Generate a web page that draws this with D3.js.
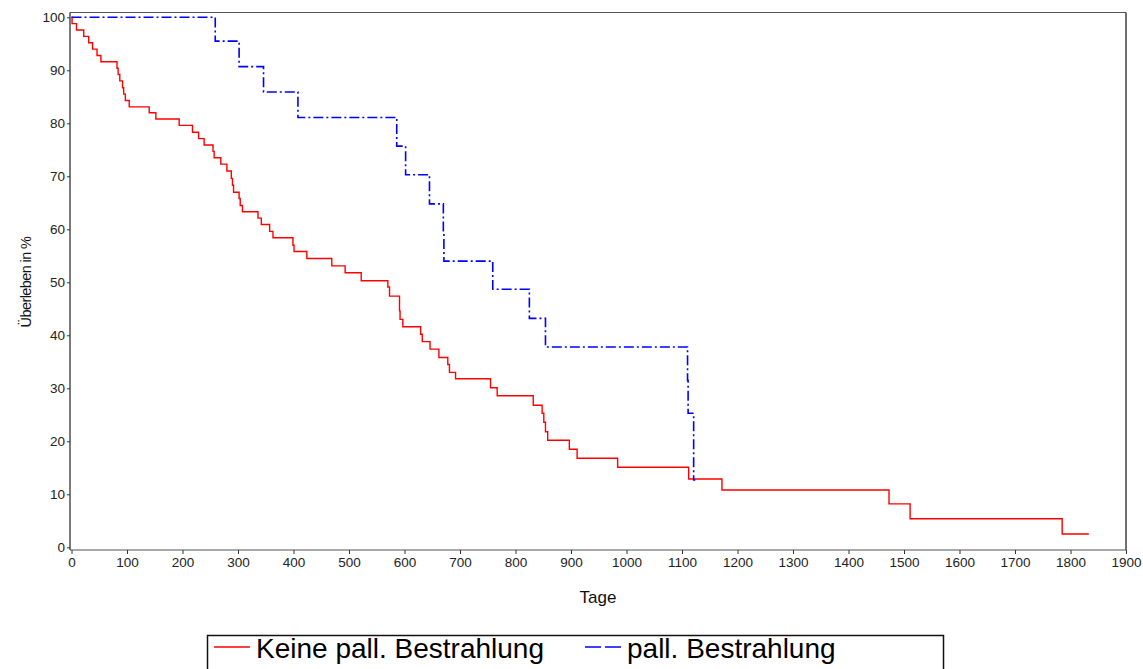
<!DOCTYPE html>
<html>
<head>
<meta charset="utf-8">
<script src="https://d3js.org/d3.v7.min.js"></script>
<style>
  body { margin: 0; background: #fff; }
  svg { display: block; font-family: "Liberation Sans", Arial, sans-serif; }
</style>
</head>
<body>
<div id="chart"></div>
<script>
// Kaplan-Meier steps: day of event and survival (%) afterwards
const redDays = [0, 1, 9, 22, 31, 38, 46, 53, 82, 84, 87, 92, 94, 97, 104, 140, 152, 194, 218, 229, 239, 255, 257, 269, 280, 288, 290, 292, 302, 304, 308, 336, 342, 357, 363, 399, 401, 424, 469, 493, 522, 570, 573, 591, 592, 597, 629, 632, 646, 662, 678, 681, 692, 755, 767, 832, 848, 851, 854, 858, 897, 911, 984, 1112, 1172, 1473, 1511, 1785, 1833];
const redSurv = [100, 98.8, 97.6, 96.4, 95.2, 94.0, 92.8, 91.6, 90.4, 89.2, 88.0, 86.7, 85.5, 84.3, 83.1, 82.0, 80.8, 79.6, 78.3, 77.1, 75.9, 74.7, 73.5, 72.3, 71.0, 69.6, 68.3, 67.0, 65.8, 64.5, 63.3, 62.1, 60.9, 59.6, 58.4, 57.0, 55.8, 54.5, 53.1, 51.8, 50.3, 49.1, 47.4, 44.6, 43.0, 41.6, 40.2, 38.8, 37.4, 35.8, 34.5, 33.0, 31.8, 30.1, 28.6, 26.8, 25.3, 23.6, 21.8, 20.2, 18.5, 16.8, 15.1, 12.9, 10.8, 8.2, 5.4, 2.5, 2.5];

const blueDays = [0, 259, 302, 346, 408, 586, 602, 645, 670, 671, 759, 825, 854, 1110, 1111, 1121, 1124];
const blueSurv = [100, 95.5, 90.7, 85.9, 81.1, 75.7, 70.3, 64.8, 59.4, 54.0, 48.7, 43.2, 37.8, 31.5, 25.3, 12.7, 12.7];

const groups = ["Keine pall. Bestrahlung", "pall. Bestrahlung"];
const xTicks = d3.range(0, 2000, 100);
const yTicks = d3.range(0, 110, 10);

const width = 1143, height = 669;

const svg = d3.select("#chart").append("svg")
  .attr("width", width)
  .attr("height", height);

const x = d3.scaleLinear().domain([0, 1900]).range([71.5, 1126]);
const y = d3.scaleLinear().domain([0, 100]).range([547.3, 17.3]);

// frame: top and right border
svg.append("line")
  .attr("x1", 70).attr("x2", 1126).attr("y1", 12.5).attr("y2", 12.5)
  .attr("stroke", "#555").attr("stroke-width", 1.2);
svg.append("line")
  .attr("x1", 1126).attr("x2", 1126).attr("y1", 12.5).attr("y2", 550)
  .attr("stroke", "#111").attr("stroke-width", 1.2);

// y axis
const yAxis = svg.append("g")
  .attr("transform", "translate(70,0)")
  .call(d3.axisLeft(y).tickValues(yTicks).tickFormat(d3.format("d")).tickSize(3).tickPadding(2).tickSizeOuter(0));
yAxis.select(".domain").attr("d", "M0,12.5V550").attr("stroke", "#222").attr("stroke-width", 1.2);

// x axis
const xAxis = svg.append("g")
  .attr("transform", "translate(0,550)")
  .call(d3.axisBottom(x).tickValues(xTicks).tickFormat(d3.format("d")).tickSize(4).tickPadding(3).tickSizeOuter(0));
xAxis.select(".domain").attr("d", "M70,0H1126").attr("stroke", "#555").attr("stroke-width", 1.2);

svg.selectAll(".tick text")
  .attr("font-size", 13.5)
  .attr("fill", "#222")
  .attr("font-family", "Liberation Sans, Arial, sans-serif");
svg.selectAll(".tick line").attr("stroke", "#333");

// axis titles
svg.append("text")
  .attr("x", 598).attr("y", 603)
  .attr("text-anchor", "middle")
  .attr("font-size", 17)
  .attr("fill", "#111")
  .text("Tage");

svg.append("text")
  .attr("transform", "translate(31,282) rotate(-90)")
  .attr("text-anchor", "middle")
  .attr("font-size", 14.5)
  .attr("fill", "#111")
  .attr("letter-spacing", "-0.6")
  .text("Überleben in %");

// survival curves
const line = d3.line()
  .x(d => x(d[0]))
  .y(d => y(d[1]))
  .curve(d3.curveStepAfter);

svg.append("path")
  .datum(redDays.map((d, i) => [d, redSurv[i]]))
  .attr("d", line)
  .attr("fill", "none")
  .attr("stroke", "#ff0000")
  .attr("stroke-width", 1.4);

svg.append("path")
  .datum(blueDays.map((d, i) => [d, blueSurv[i]]))
  .attr("d", line)
  .attr("fill", "none")
  .attr("stroke", "#0000ff")
  .attr("stroke-width", 1.6)
  .attr("stroke-dasharray", "10,3,2,3");

// legend
const legend = svg.append("g");
legend.append("rect")
  .attr("x", 207.5).attr("y", 635.5)
  .attr("width", 736).attr("height", 60)
  .attr("fill", "none")
  .attr("stroke", "#111")
  .attr("stroke-width", 1.5);

const legendItems = [
  {x0: 214, x1: 250, tx: 256, color: "#ff0000", dash: null},
  {x0: 585, x1: 621, tx: 627, color: "#0000ff", dash: "16,4"}
];
legendItems.forEach((it, i) => {
  legend.append("line")
    .attr("x1", it.x0).attr("x2", it.x1)
    .attr("y1", 647).attr("y2", 647)
    .attr("stroke", it.color)
    .attr("stroke-width", 1.4)
    .attr("stroke-dasharray", it.dash);
  legend.append("text")
    .attr("x", it.tx).attr("y", 658)
    .attr("font-size", 28)
    .attr("fill", "#000")
    .text(groups[i]);
});
</script>
</body>
</html>
